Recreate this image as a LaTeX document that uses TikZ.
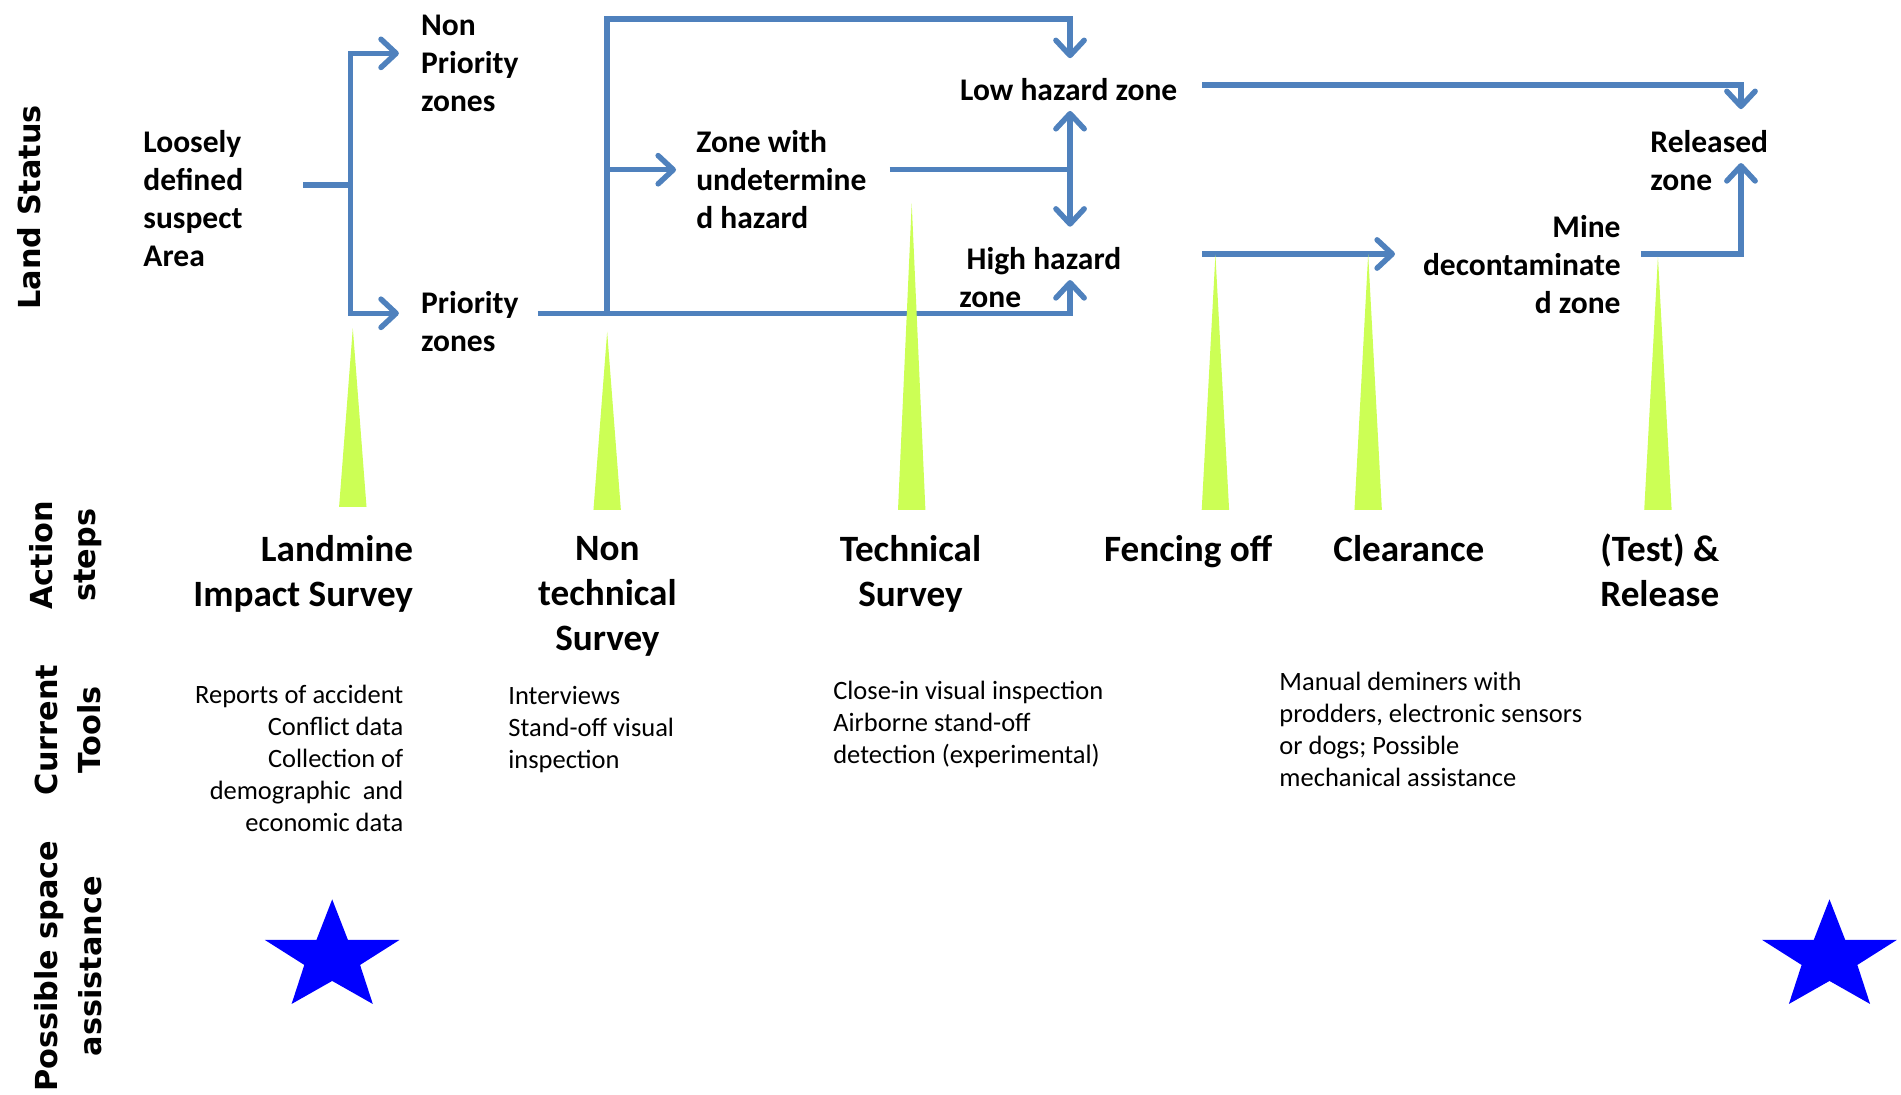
\documentclass[tikz,border=0pt]{standalone}
\usepackage{fontspec}
\setmainfont{Carlito}
\newfontfamily\rowfont{DejaVu Sans}
\usetikzlibrary{arrows.meta}
\definecolor{flowblue}{RGB}{79,129,189}
\definecolor{spikegreen}{RGB}{204,255,85}
\definecolor{starblue}{RGB}{0,0,255}

\begin{document}
\begin{tikzpicture}[x=0.6pt,y=-0.6pt,
  flow/.style={draw=flowblue, line width=2.7pt},
  arr/.style={flow, -{Straight Barb[length=7.5pt,width=14pt,round]}},
  zone/.style={inner sep=0pt, font=\fontsize{15.6}{18.8}\selectfont\bfseries},
  stepname/.style={inner sep=0pt, font=\fontsize{18.4}{22.2}\selectfont\bfseries},
  toolnote/.style={inner sep=0pt, font=\fontsize{13.1}{15.8}\selectfont},
  rowlabel/.style={inner sep=0pt, rotate=90, align=center,
    font=\rowfont\bfseries\fontsize{15}{21.6}\selectfont},
  spike/.style={fill=spikegreen},
  bigstar/.style={fill=starblue}
]
\useasboundingbox (0,0) rectangle (1568,903);

% row headings
\node[rowlabel] (rowland)   at (24,171) {Land Status};
\node[rowlabel] (rowaction) at (54,458) {Action\\steps};
\node[rowlabel] (rowtools)  at (56,602) {Current\\Tools};
\node[rowlabel] (rowspace)  at (56,797) {Possible space\\assistance};

% land status zones
\node[zone, anchor=west, align=left]  (loose)    at (118,164)   {Loosely\\defined\\suspect\\Area};
\node[zone, anchor=west, align=left]  (nonprio)  at (347,52.5)  {Non\\Priority\\zones};
\node[zone, anchor=west, align=left]  (prio)     at (347,265)   {Priority\\zones};
\node[zone, anchor=west, align=left]  (undet)    at (574,148.5) {Zone with\\undetermine\\d hazard};
\node[zone, anchor=center]            (low)      at (881.5,74)  {Low hazard zone};
\node[zone, anchor=west, align=left]  (high)     at (791,229)   {\hspace*{0.23em}High hazard\\zone};
\node[zone, anchor=west, align=left]  (released) at (1361,132.5) {Released\\zone};
\node[zone, anchor=east, align=right] (mine)     at (1337,218.5) {Mine\\decontaminate\\d zone};

% junctions and arrow ends
\coordinate (looseout) at (250,152.6);
\coordinate (split)    at (289,152.6);
\coordinate (tononp)   at (329,44);
\coordinate (toprio)   at (329,258.4);
\coordinate (prioout)  at (443.7,258.4);
\coordinate (ntsfork)  at (500.8,258.4);
\coordinate (ntsmid)   at (500.8,140);
\coordinate (ntstop)   at (500.8,15.7);
\coordinate (lowtop)   at (882.6,15.7);
\coordinate (lowin)    at (882.6,48);
\coordinate (toundet)  at (557.6,140);
\coordinate (highin)   at (882.6,231);
\coordinate (undetout) at (734,140);
\coordinate (lowup)    at (882.6,91.5);
\coordinate (highdown) at (882.6,187);
\coordinate (lowout)   at (991.6,70);
\coordinate (relin)    at (1436,90);
\coordinate (highout)  at (991.6,209.5);
\coordinate (minein)   at (1150.6,209.5);
\coordinate (mineout)  at (1353.5,209.5);
\coordinate (relup)    at (1436,134.5);

% flow connectors
\draw[flow] (looseout) -- (split);
\draw[arr] (split) |- (tononp);
\draw[arr] (split) |- (toprio);
\draw[arr] (prioout) -| (highin);
\draw[arr] (ntsfork) -- (ntstop) -- (lowtop) -- (lowin);
\draw[arr] (ntsmid) -- (toundet);
\draw[arr] (undetout) -| (lowup);
\draw[arr] (undetout) -| (highdown);
\draw[arr] (lowout) -| (relin);
\draw[arr] (highout) -- (minein);
\draw[arr] (mineout) -| (relup);

% action step markers
\foreach \x/\t/\b in {291/270.6/418, 500.8/273.6/420.6, 752/167.7/420.6,
                      1002.5/210/420.6, 1128.5/209.5/420.6, 1367.5/211.7/420.6}
  \fill[spike] (\x-11.3,\b) -- (\x,\t) -- (\x+11.3,\b) -- cycle;

% action steps
\node[stepname, anchor=east, align=right]    (lis)    at (341,473)   {Landmine\\Impact Survey};
\node[stepname, anchor=center, align=center] (nts)    at (501,492)   {Non\\technical\\Survey};
\node[stepname, anchor=center, align=center] (ts)     at (751,473)   {Technical\\Survey};
\node[stepname, anchor=center]               (fence)  at (980,455)   {Fencing off};
\node[stepname, anchor=center]               (clear)  at (1162,452.5) {Clearance};
\node[stepname, anchor=center, align=center] (test)   at (1369,470.5) {(Test) \&\\Release};

% current tools
\node[toolnote, anchor=east, align=right] (toollis) at (333,625.5)
  {Reports of accident\\Conflict data\\Collection of\\demographic\ \ and\\economic data};
\node[toolnote, anchor=west, align=left] (toolnts) at (419,602)
  {Interviews\\Stand-off visual\\inspection};
\node[toolnote, anchor=west, align=left] (toolts) at (687,597.5)
  {Close-in visual inspection\\Airborne stand-off\\detection (experimental)};
\node[toolnote, anchor=west, align=left] (toolclear) at (1055,601.5)
  {Manual deminers with\\prodders, electronic sensors\\or dogs; Possible\\mechanical assistance};

% space assistance stars
\foreach \cx in {274,1509}
  \fill[bigstar] (\cx,741.8) -- (\cx+13,775.3) -- (\cx+55.5,775.3) -- (\cx+23,795.9)
    -- (\cx+33.5,828.1) -- (\cx,809.1) -- (\cx-33.5,828.1) -- (\cx-23,795.9)
    -- (\cx-55.5,775.3) -- (\cx-13,775.3) -- cycle;
\end{tikzpicture}
\end{document}
